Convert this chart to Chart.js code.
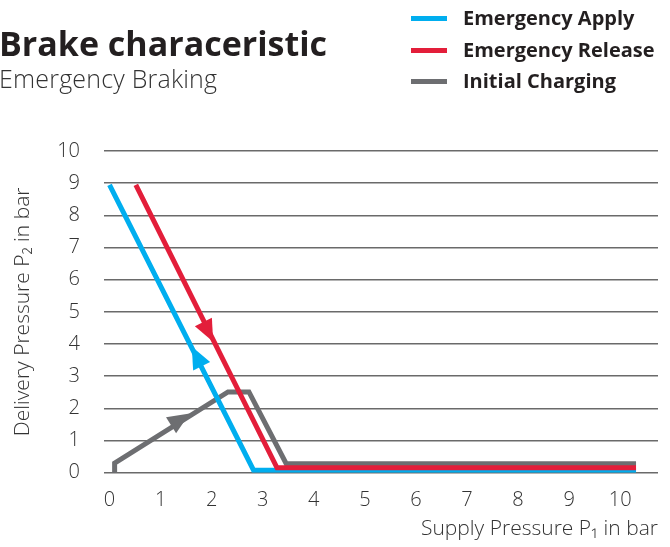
<!DOCTYPE html>
<html>
<head>
<meta charset="utf-8">
<script src="https://cdn.jsdelivr.net/npm/chart.js@4.4.1/dist/chart.umd.min.js"></script>
<style>
  html, body { margin: 0; padding: 0; background: #fff; width: 670px; height: 547px; overflow: hidden; }
  #wrap { position: relative; width: 670px; height: 547px; }
  #chart { position: absolute; left: 0; top: 0; }
  .title { position: absolute; left: -1px; top: 25.8px; font: 700 34px/34px "Open Sans", sans-serif; color: #231f20; white-space: nowrap; }
  .subtitle { position: absolute; left: -1px; top: 66.1px; font: 300 25px/25px "Open Sans", sans-serif; color: #333; white-space: nowrap; letter-spacing: 0.2px; }
  .legend { position: absolute; left: 411px; top: 0; }
  .legend .row { position: absolute; left: 0; white-space: nowrap; }
  .legend .sw { position: absolute; left: 0; width: 36px; height: 5px; }
  .legend .lab { position: absolute; left: 52px; font: 700 20px/20px "Open Sans", sans-serif; color: #231f20; white-space: nowrap; }
</style>
</head>
<body>
<div id="wrap">
  <canvas id="chart" width="670" height="547"></canvas>
  <div class="title">Brake characeristic</div>
  <div class="subtitle">Emergency Braking</div>
  <div class="legend" id="legend"></div>
</div>
<script>
// ---- data ----
const xTicks = [0, 1, 2, 3, 4, 5, 6, 7, 8, 9, 10];
const yTicks = [0, 1, 2, 3, 4, 5, 6, 7, 8, 9, 10];

const seriesNames = ['Emergency Apply', 'Emergency Release', 'Initial Charging'];

const applyX = [0, 2.82, 10.31];
const applyY = [8.95, 0.08, 0.08];

const releaseX = [0.515, 3.28, 10.31];
const releaseY = [8.95, 0.15, 0.15];

const chargeX = [0.1, 0.1, 2.32, 2.73, 3.46, 10.31];
const chargeY = [0, 0.3, 2.51, 2.51, 0.28, 0.28];

// direction arrows: which series, tip position, and whether it points against the data order
const arrowSeries = ['Emergency Release', 'Emergency Apply', 'Initial Charging'];
const arrowX = [2.03, 1.61, 1.57];
const arrowY = [4.07, 3.92, 1.84];
const arrowReverse = [false, true, false];

const xTitle = 'Supply Pressure P\u2081 in bar';
const yTitle = 'Delivery Pressure P\u2082 in bar';

// ---- build ----
const pts = (xs, ys) => xs.map((v, i) => ({ x: v, y: ys[i] }));
const colors = { 'Emergency Apply': '#00aeef', 'Emergency Release': '#e31e3a', 'Initial Charging': '#6d6e71' };
const drawOrder = { 'Emergency Apply': 1, 'Emergency Release': 0, 'Initial Charging': 2 };
const seriesData = [pts(applyX, applyY), pts(releaseX, releaseY), pts(chargeX, chargeY)];

const datasets = seriesNames.map((name, i) => ({
  label: name,
  data: seriesData[i],
  borderColor: colors[name],
  backgroundColor: colors[name],
  borderWidth: 5,
  pointRadius: 0,
  tension: 0,
  fill: false,
  borderJoinStyle: 'miter',
  borderCapStyle: 'butt',
  order: drawOrder[name]
}));

const axisFont = { family: 'Open Sans', size: 20, weight: '300' };
const titleFont = { family: 'Open Sans', size: 21, weight: '300' };
const textColor = '#333333';

const arrowPlugin = {
  id: 'arrows',
  afterDatasetsDraw(chart) {
    const { ctx } = chart;
    const xs = chart.scales.x, ys = chart.scales.y;
    const L = 22, W = 9.5;
    arrowX.forEach((ax, i) => {
      const ds = chart.data.datasets.find(d => d.label === arrowSeries[i]);
      const tx = xs.getPixelForValue(ax), ty = ys.getPixelForValue(arrowY[i]);
      let best = null, bd = Infinity;
      for (let k = 0; k < ds.data.length - 1; k++) {
        const p = ds.data[k], q = ds.data[k + 1];
        const px = xs.getPixelForValue(p.x), py = ys.getPixelForValue(p.y);
        const qx = xs.getPixelForValue(q.x), qy = ys.getPixelForValue(q.y);
        const vx = qx - px, vy = qy - py, len2 = vx * vx + vy * vy;
        if (!len2) continue;
        let t = ((tx - px) * vx + (ty - py) * vy) / len2;
        t = Math.max(0, Math.min(1, t));
        const dx = px + t * vx - tx, dy = py + t * vy - ty, d = dx * dx + dy * dy;
        if (d < bd) { bd = d; best = [vx, vy]; }
      }
      let [ux, uy] = best;
      const n = Math.hypot(ux, uy); ux /= n; uy /= n;
      if (arrowReverse[i]) { ux = -ux; uy = -uy; }
      const bx = tx - L * ux, by = ty - L * uy;
      ctx.save();
      ctx.fillStyle = ds.borderColor;
      ctx.beginPath();
      ctx.moveTo(tx, ty);
      ctx.lineTo(bx - W * uy, by + W * ux);
      ctx.lineTo(bx + W * uy, by - W * ux);
      ctx.closePath();
      ctx.fill();
      ctx.restore();
    });
  }
};

const chart = new Chart(document.getElementById('chart'), {
  type: 'line',
  data: { datasets },
  options: {
    responsive: false,
    animation: false,
    devicePixelRatio: 1,
    layout: { padding: { top: 151, right: 12, bottom: 0, left: 0 } },
    plugins: { legend: { display: false }, tooltip: { enabled: false }, title: { display: false } },
    scales: {
      x: {
        type: 'linear',
        min: -0.108,
        max: 10.74,
        afterBuildTicks: s => { s.ticks = xTicks.map(v => ({ value: v })); },
        afterFit: s => { s.height = 74.3; },
        grid: { display: false },
        border: { display: false },
        ticks: { font: axisFont, color: textColor, padding: 8, maxRotation: 0, autoSkip: false },
        title: { display: true, text: xTitle, align: 'end', font: titleFont, color: textColor, padding: { top: 0, bottom: 5 } }
      },
      y: {
        type: 'linear',
        min: 0,
        max: 10,
        afterBuildTicks: s => { s.ticks = yTicks.map(v => ({ value: v })); },
        afterFit: s => { s.width = 104; },
        grid: { color: '#6a6a6a', lineWidth: 1.5, drawTicks: false },
        border: { display: false },
        ticks: { font: axisFont, color: textColor, padding: 24, autoSkip: false },
        title: { display: true, text: yTitle, font: titleFont, color: textColor, padding: { top: 10, bottom: 0 } }
      }
    }
  },
  plugins: [arrowPlugin]
});

// HTML legend built from the chart's datasets
const legendTops = [18.3, 50, 81];
const leg = document.getElementById('legend');
seriesNames.forEach((name, i) => {
  const ds = chart.data.datasets.find(d => d.label === name);
  const row = document.createElement('div');
  row.className = 'row';
  row.style.top = (legendTops[i] - 2.5) + 'px';
  const sw = document.createElement('div');
  sw.className = 'sw';
  sw.style.background = ds.borderColor;
  const lab = document.createElement('div');
  lab.className = 'lab';
  lab.style.top = (-7.8) + 'px';
  lab.textContent = name;
  row.appendChild(sw);
  row.appendChild(lab);
  leg.appendChild(row);
});
</script>
</body>
</html>
